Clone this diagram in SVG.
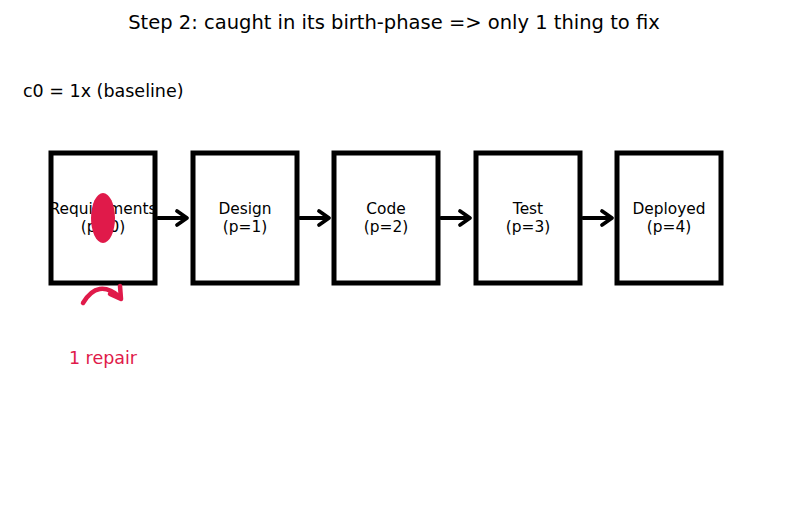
<svg xmlns="http://www.w3.org/2000/svg" width="787" height="507" viewBox="0 0 787 507">
<style>
text{font-family:"DejaVu Sans","Liberation Sans",sans-serif;}
.box{fill:#fff;stroke:#000;stroke-width:5;}
.lbl{font-size:15.4px;text-anchor:middle;fill:#000;}
.conn{fill:none;stroke:#000;stroke-width:3.8;stroke-linecap:round;stroke-linejoin:round;}
.red{fill:none;stroke:#e01a4a;stroke-width:4.5;stroke-linecap:round;stroke-linejoin:round;}
</style>
<rect width="787" height="507" fill="#fff"/>
<text x="394" y="29" font-size="19.5" text-anchor="middle">Step 2: caught in its birth-phase =&gt; only 1 thing to fix</text>
<text x="23" y="97" font-size="17.5">c0 = 1x (baseline)</text>
<g id="connectors">
<path class="conn" d="M158,218H186M177,211L187,218L177,225"/>
<path class="conn" d="M300,218H328M319,211L329,218L319,225"/>
<path class="conn" d="M441,218H469M460,211L470,218L460,225"/>
<path class="conn" d="M583,218H611M602,211L612,218L602,225"/>
</g>
<g id="n0"><rect class="box" x="51" y="153" width="104" height="130"/><text class="lbl" x="103" y="214">Requirements</text><text class="lbl" x="103" y="232">(p=0)</text></g>
<g id="n1"><rect class="box" x="193" y="153" width="104" height="130"/><text class="lbl" x="245" y="214">Design</text><text class="lbl" x="245" y="232">(p=1)</text></g>
<g id="n2"><rect class="box" x="334" y="153" width="104" height="130"/><text class="lbl" x="386" y="214">Code</text><text class="lbl" x="386" y="232">(p=2)</text></g>
<g id="n3"><rect class="box" x="476" y="153" width="104" height="130"/><text class="lbl" x="528" y="214">Test</text><text class="lbl" x="528" y="232">(p=3)</text></g>
<g id="n4"><rect class="box" x="617" y="153" width="104" height="130"/><text class="lbl" x="669" y="214">Deployed</text><text class="lbl" x="669" y="232">(p=4)</text></g>
<g id="defect">
<ellipse cx="103" cy="218" rx="12" ry="25" fill="#e01a4a"/>
<path class="red" d="M83,303Q98,278 120,297"/>
<path class="red" d="M110,294L121,299L120,286"/>
<text x="103" y="364" font-size="17.5" text-anchor="middle" fill="#e01a4a">1 repair</text>
</g>
</svg>
